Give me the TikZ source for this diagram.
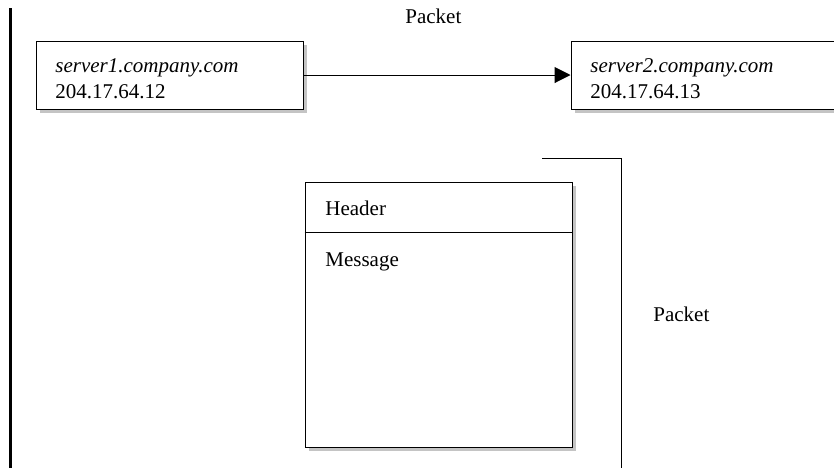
\documentclass[tikz,border=0pt]{standalone}
\usepackage{fontspec}
\setmainfont{Liberation Serif}
\usepackage{tikz}
\usetikzlibrary{positioning,arrows.meta,shadows}
\definecolor{shade}{HTML}{C4C4C4}

\begin{document}
\begin{tikzpicture}[
  x=0.5pt,y=-0.5pt,
  every node/.style={font=\fontsize{10.5}{13}\selectfont},
  hostbox/.style={draw,line width=0.5pt,fill=white,align=left,text width=114pt,inner xsep=9.5pt,
    minimum width=133.5pt,minimum height=34pt,
    drop shadow={shadow xshift=2pt,shadow yshift=-2pt,fill=shade,opacity=1}},
  pktbox/.style={draw,line width=0.5pt,fill=white,minimum width=133.5pt,minimum height=132.5pt,
    drop shadow={shadow xshift=2pt,shadow yshift=-2pt,fill=shade,opacity=1}},
  lbl/.style={inner sep=0pt,anchor=base west},
  arr/.style={-{Triangle[length=8pt,width=8pt]},line width=0.5pt}]
  \useasboundingbox (0,0) rectangle (834,468);
  \clip (0,0) rectangle (834,468);
  % sender and receiver
  \node[hostbox] (srv1) at (169.5,75) {};
  \node[hostbox] (srv2) at (704.5,75) {};
  \node[lbl] (name1) at (55,72) {\textit{server1.company.com}};
  \node[lbl] (addr1) at (55,98) {204.17.64.12};
  \node[lbl] (name2) at (590,72) {\textit{server2.company.com}};
  \node[lbl] (addr2) at (590,98) {204.17.64.13};
  \draw[arr] (srv1) -- (srv2);
  \node[lbl] (toplbl) at (405,23) {Packet};
  % packet layout
  \node[pktbox] (pkt) at (438.5,314.5) {};
  \draw[line width=0.5pt] (pkt.west |- 0,232) -- (pkt.east |- 0,232);
  \node[lbl] (hdr) at (325,215) {Header};
  \node[lbl] (msg) at (325,266) {Message};
  \draw[line width=0.5pt] (542,158) -- (621,158) -- (621,468);
  \node[lbl] (sidelbl) at (653,321) {Packet};
  % margin bar
  \draw[line width=1.5pt] (10,8) -- (10,468);
\end{tikzpicture}
\end{document}
